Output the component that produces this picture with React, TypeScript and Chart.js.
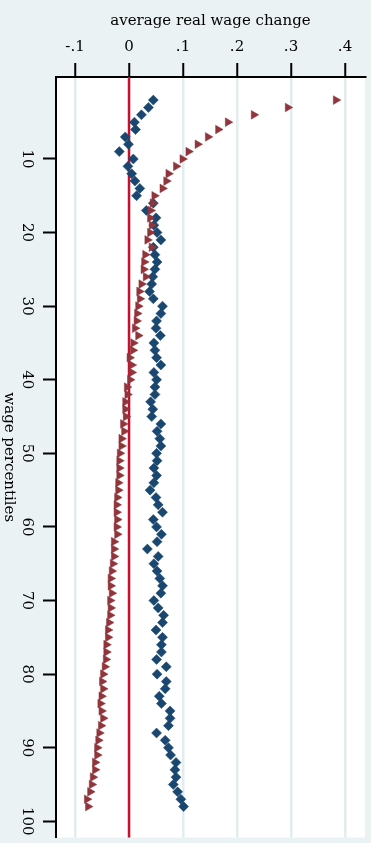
import React, { useEffect, useRef } from "react";
import { Chart, registerables } from "chart.js";

Chart.register(...registerables);

// wage percentiles (y)
const percentiles = [
  2, 3, 4, 5, 6, 7, 8, 9, 10, 11, 12, 13, 14, 15, 16, 17, 18, 19, 20, 21,
  22, 23, 24, 25, 26, 27, 28, 29, 30, 31, 32, 33, 34, 35, 36, 37, 38, 39, 40,
  41, 42, 43, 44, 45, 46, 47, 48, 49, 50, 51, 52, 53, 54, 55, 56, 57, 58, 59,
  60, 61, 62, 63, 64, 65, 66, 67, 68, 69, 70, 71, 72, 73, 74, 75, 76, 77, 78,
  79, 80, 81, 82, 83, 84, 85, 86, 87, 88, 89, 90, 91, 92, 93, 94, 95, 96, 97, 98,
];

// average real wage change, red triangles
const changeRed = [
  0.383, 0.294, 0.231, 0.183, 0.165, 0.146, 0.127, 0.11, 0.099, 0.087,
  0.073, 0.069, 0.062, 0.047, 0.044, 0.04, 0.039, 0.042, 0.039, 0.034,
  0.042, 0.03, 0.028, 0.027, 0.031, 0.023, 0.019, 0.02, 0.017, 0.015,
  0.014, 0.011, 0.017, 0.008, 0.007, 0.001, 0.005, 0.005, 0.002, -0.004,
  -0.003, -0.007, -0.007, -0.006, -0.011, -0.009, -0.014, -0.014, -0.017, -0.018,
  -0.018, -0.018, -0.02, -0.02, -0.022, -0.023, -0.023, -0.022, -0.023, -0.022,
  -0.028, -0.028, -0.028, -0.03, -0.032, -0.034, -0.034, -0.032, -0.035, -0.034,
  -0.035, -0.037, -0.039, -0.039, -0.042, -0.042, -0.043, -0.045, -0.048, -0.05,
  -0.048, -0.051, -0.053, -0.051, -0.048, -0.052, -0.055, -0.057, -0.059, -0.059,
  -0.063, -0.063, -0.067, -0.069, -0.072, -0.078, -0.076,
];

// average real wage change, blue diamonds
const changeBlue = [
  0.045, 0.036, 0.023, 0.01, 0.012, -0.007, -0.001, -0.018, 0.008, -0.002,
  0.005, 0.011, 0.02, 0.014, 0.045, 0.032, 0.05, 0.046, 0.052, 0.059,
  0.045, 0.048, 0.052, 0.048, 0.044, 0.042, 0.038, 0.045, 0.062, 0.059,
  0.051, 0.05, 0.058, 0.046, 0.048, 0.051, 0.059, 0.046, 0.051, 0.048,
  0.048, 0.04, 0.044, 0.042, 0.059, 0.052, 0.057, 0.059, 0.051, 0.052,
  0.046, 0.051, 0.046, 0.039, 0.05, 0.054, 0.062, 0.045, 0.051, 0.06,
  0.052, 0.034, 0.054, 0.046, 0.052, 0.057, 0.062, 0.059, 0.046, 0.054,
  0.064, 0.062, 0.05, 0.062, 0.06, 0.06, 0.051, 0.069, 0.052, 0.069,
  0.067, 0.056, 0.06, 0.076, 0.076, 0.073, 0.051, 0.067, 0.073, 0.077,
  0.087, 0.085, 0.087, 0.082, 0.09, 0.096, 0.101,
];

const xTicks = [-0.1, 0, 0.1, 0.2, 0.3, 0.4];
const xTickLabels = ["-.1", "0", ".1", ".2", ".3", ".4"];
const yTicks = [10, 20, 30, 40, 50, 60, 70, 80, 90, 100];
const yTickLabels = ["10", "20", "30", "40", "50", "60", "70", "80", "90", "100"];
const xTitle = "average real wage change";
const yTitle = "wage percentiles";

const FONT = "'DejaVu Serif', serif";

export default function App() {
  const ref = useRef<HTMLCanvasElement | null>(null);

  useEffect(() => {
    document.body.style.margin = "0";
    const canvas = ref.current;
    if (!canvas) return;

    const bgPlugin = {
      id: "bg",
      beforeDraw(chart: any) {
        const { ctx, chartArea } = chart;
        ctx.save();
        ctx.fillStyle = "#eaf2f3";
        ctx.fillRect(0, 0, chart.width, chart.height);
        ctx.fillStyle = "#ffffff";
        ctx.fillRect(
          chartArea.left,
          chartArea.top,
          chartArea.right - chartArea.left,
          chartArea.bottom - chartArea.top
        );
        ctx.restore();
      },
    };

    const zeroLinePlugin = {
      id: "zeroLine",
      beforeDatasetsDraw(chart: any) {
        const { ctx, chartArea, scales } = chart;
        const x = scales.x.getPixelForValue(0);
        ctx.save();
        ctx.strokeStyle = "#c8102e";
        ctx.lineWidth = 2.5;
        ctx.beginPath();
        ctx.moveTo(x, chartArea.top);
        ctx.lineTo(x, chartArea.bottom);
        ctx.stroke();
        ctx.restore();
      },
    };

    const yLabelPlugin = {
      id: "yLabels",
      afterDraw(chart: any) {
        const { ctx, scales } = chart;
        const ys = scales.y;
        ctx.save();
        ctx.fillStyle = "#000";
        ctx.font = `15px ${FONT}`;
        ctx.textAlign = "center";
        ctx.textBaseline = "middle";
        yTicks.forEach((v, i) => {
          const y = ys.getPixelForValue(v);
          ctx.save();
          ctx.translate(26.5, y);
          ctx.rotate(Math.PI / 2);
          ctx.fillText(yTickLabels[i], 0, 0);
          ctx.restore();
        });
        const cy = (ys.top + ys.bottom) / 2;
        ctx.translate(8.5, cy);
        ctx.rotate(Math.PI / 2);
        ctx.fillText(yTitle, 0, 0);
        ctx.restore();
      },
    };

    const chart = new Chart(canvas, {
      type: "scatter",
      data: {
        datasets: [
          {
            label: "red",
            data: percentiles.map((p, i) => ({ x: changeRed[i], y: p })),
            pointStyle: "triangle",
            rotation: 90,
            radius: 5,
            backgroundColor: "#90353b",
            borderColor: "#90353b",
            borderWidth: 0.5,
            order: 0,
          },
          {
            label: "blue",
            data: percentiles.map((p, i) => ({ x: changeBlue[i], y: p })),
            pointStyle: "rectRot",
            radius: 5,
            backgroundColor: "#1a476f",
            borderColor: "#1a476f",
            borderWidth: 0.5,
            order: 1,
          },
        ],
      },
      options: {
        animation: false,
        responsive: false,
        devicePixelRatio: 1,
        layout: { padding: { left: 0, right: 6, top: 0, bottom: 0 } },
        plugins: {
          legend: { display: false },
          tooltip: { enabled: false },
        },
        scales: {
          x: {
            type: "linear",
            position: "top",
            min: -0.1352,
            max: 0.437,
            afterBuildTicks: (s: any) => {
              s.ticks = xTicks.map((v) => ({ value: v }));
            },
            afterFit: (s: any) => {
              s.height = 77;
            },
            ticks: {
              callback: (_v: any, i: number) => xTickLabels[i],
              font: { family: FONT, size: 15 },
              color: "#000",
              padding: 7,
              maxRotation: 0,
              autoSkip: false,
            },
            grid: {
              color: "#e3ecef",
              lineWidth: 2.5,
              tickColor: "#000",
              tickWidth: 2,
              tickLength: 14,
              drawTicks: true,
            },
            border: { display: true, color: "#000", width: 2 },
            title: {
              display: true,
              text: xTitle,
              font: { family: FONT, size: 15 },
              color: "#000",
              padding: { top: 12, bottom: 0 },
            },
          },
          y: {
            type: "linear",
            position: "left",
            reverse: true,
            min: -1.14,
            max: 102.2,
            afterBuildTicks: (s: any) => {
              s.ticks = yTicks.map((v) => ({ value: v }));
            },
            afterFit: (s: any) => {
              s.width = 56;
            },
            ticks: { display: false },
            grid: {
              drawOnChartArea: false,
              tickColor: "#000",
              tickWidth: 2,
              tickLength: 13,
              drawTicks: true,
            },
            border: { display: true, color: "#000", width: 2 },
          },
        },
      } as any,
      plugins: [bgPlugin, zeroLinePlugin, yLabelPlugin],
    });

    return () => chart.destroy();
  }, []);

  return (
    <div style={{ width: 371, height: 843, background: "#eaf2f3" }}>
      <canvas ref={ref} width={371} height={843} style={{ display: "block" }} />
    </div>
  );
}
